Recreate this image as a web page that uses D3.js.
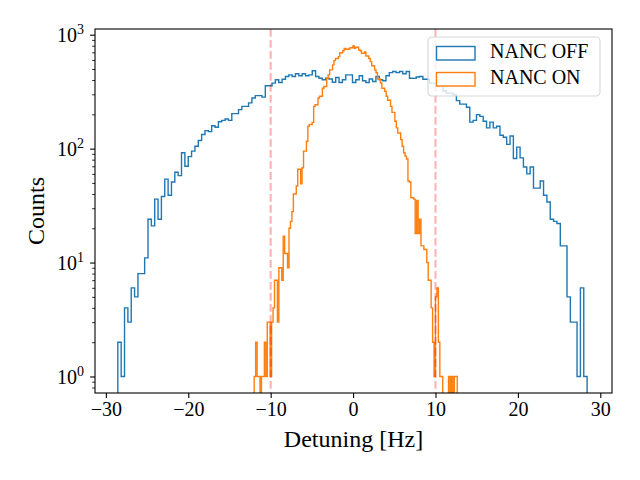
<!DOCTYPE html>
<html>
<head>
<meta charset="utf-8">
<script src="https://cdn.jsdelivr.net/npm/d3@7"></script>
<style>
  body { margin: 0; background: #fff; }
  svg { display: block; }
  .axis path, .axis line { stroke: #000; }
  text { font-family: "Liberation Serif", "DejaVu Serif", serif; fill: #000; }
</style>
</head>
<body>
<svg id="chart" width="640" height="480"></svg>
<script>
// histogram counts, 140 bins each
const offCounts = [2,1,4,3,6,5,8,8,11,24,21,36,24,38,54,39,51,62,58,92,70,85,95,105,
  118,133,144,141,159,154,172,177,182,177,203,203,220,235,235,252,278,292,292,283,356,356,
  376,402,381,407,430,444,430,454,436,
  454,436,444,482,430,415,402,415,408,383,421,381,402,444,444,381,402,436,394,381,
  408,388,430,402,394,436,465,475,465,475,454,475,415,
  414,425,430,407,407,
  376,376,352,352,322,307,307,297,264,246,246,231,171,177,199,192,174,152,171,152,
  157,131,126,109,129,82,103,83,69,60,69,45,45,52,39,34,24,23,22,14,14,5,3,3,1,6,1];
const onCounts = [1,2,1,1,0,1,1,2,1,3, 3,1,3,4,7,7,3,9,9,7,
  17,12,12,9,20,23,28,40,40,47, 66,66,49,68,95,95,116,157,163,163,
  170,235,243,243,278,288,288,339,351,351, 415,444,491,491,543,592,619,619,642,695,
  695,724,758,745,745,749,769,769,796,758, 775,775,735,724,686,686,706,650,650,619,
  580,534,534,491,463,408,408,377,339,339, 318,288,266,266,235,208,208,174,152,137,
  137,120,105,92,86,81,52,51,37,37, 36,18,35,18,24,14,14,13,13,10,
  7,7,4,2,1,5,6,2,1,1, 0,0,0,0,1,0,1,0,1,1];
const offRange = [-28.55, 28.4];
const onRange = [-12.0, 12.64];
const seriesNames = ["NANC OFF", "NANC ON"];
const seriesColors = ["#1f77b4", "#ff7f0e"];
const xTicks = [-30, -20, -10, 0, 10, 20, 30];
const yTickExps = [0, 1, 2, 3];
const markerLines = [-10, 10];

const svg = d3.select("#chart"),
      margin = {top: 29, right: 28, bottom: 87, left: 95},
      width = 640 - margin.left - margin.right,
      height = 480 - margin.top - margin.bottom,
      g = svg.append("g").attr("transform", "translate(" + margin.left + "," + margin.top + ")");

const x = d3.scaleLinear().domain([-31.32, 31.42]).range([0, width]);
const y = d3.scaleLog().domain([Math.pow(10, -0.145), Math.pow(10, 3.05)]).range([height, 0]);

svg.append("defs").append("clipPath").attr("id", "plotclip")
  .append("rect").attr("width", width).attr("height", height);

// step outline like matplotlib histtype='step'; zero bins fall off the bottom
function stepPoints(counts, range) {
  const w = (range[1] - range[0]) / counts.length;
  const yv = v => v > 0 ? y(v) : height + 30;
  let pts = [[x(range[0]), height + 30]];
  counts.forEach((c, i) => {
    pts.push([x(range[0] + i * w), yv(c)]);
    pts.push([x(range[0] + (i + 1) * w), yv(c)]);
  });
  pts.push([x(range[1]), height + 30]);
  return pts;
}

const plot = g.append("g").attr("clip-path", "url(#plotclip)");
[offCounts, onCounts].forEach((counts, i) => {
  plot.append("path")
    .attr("d", d3.line()(stepPoints(counts, i === 0 ? offRange : onRange)))
    .attr("fill", "none")
    .attr("stroke", seriesColors[i])
    .attr("stroke-width", 1.4)
    .attr("stroke-linejoin", "miter");
});

plot.selectAll("line.marker")
  .data(markerLines)
  .enter().append("line")
  .attr("class", "marker")
  .attr("x1", d => x(d)).attr("x2", d => x(d))
  .attr("y1", 0).attr("y2", height)
  .attr("stroke", "#ff0000")
  .attr("stroke-opacity", 0.3)
  .attr("stroke-width", 2.1)
  .attr("stroke-dasharray", "7.7,3.3");

// axes
const xAxis = g.append("g")
  .attr("class", "axis")
  .attr("transform", "translate(0," + height + ")")
  .call(d3.axisBottom(x).tickValues(xTicks).tickSize(4.9).tickPadding(4)
    .tickFormat(d => (d < 0 ? "\u2212" : "") + Math.abs(d)));
xAxis.select(".domain").remove();
xAxis.selectAll("line").attr("stroke-width", 1.1);
xAxis.selectAll("text").attr("font-size", 20).attr("font-family", "Liberation Serif");

const minor = [];
for (let e = -1; e <= 3; e++) {
  for (let m = 2; m <= 9; m++) {
    const v = m * Math.pow(10, e);
    if (v > y.domain()[0] && v < y.domain()[1]) minor.push(v);
  }
}
const yMinor = g.append("g").attr("class", "axis")
  .call(d3.axisLeft(y).tickValues(minor).tickSize(2.8).tickFormat(""));
yMinor.select(".domain").remove();
yMinor.selectAll("line").attr("stroke-width", 0.85);

const yAxis = g.append("g").attr("class", "axis")
  .call(d3.axisLeft(y).tickValues(yTickExps.map(e => Math.pow(10, e))).tickSize(4.9).tickFormat(""));
yAxis.select(".domain").remove();
yAxis.selectAll("line").attr("stroke-width", 1.1);
yAxis.selectAll(".tick").each(function(d, i) {
  const t = d3.select(this).append("text")
    .attr("x", -11).attr("y", 6.7)
    .attr("text-anchor", "end")
    .attr("font-size", 20);
  t.append("tspan").text("10");
  t.append("tspan").attr("font-size", 14).attr("dy", -8).text(String(yTickExps[i]));
});

// frame
g.append("rect")
  .attr("width", width).attr("height", height)
  .attr("fill", "none").attr("stroke", "#000").attr("stroke-width", 1.1);

// labels
svg.append("text")
  .attr("x", margin.left + width / 2).attr("y", 447)
  .attr("text-anchor", "middle").attr("font-size", 24)
  .text("Detuning [Hz]");
svg.append("text")
  .attr("transform", "translate(44," + (margin.top + height / 2) + ") rotate(-90)")
  .attr("text-anchor", "middle").attr("font-size", 24)
  .text("Counts");

// legend
const legend = svg.append("g").attr("transform", "translate(428,37)");
legend.append("rect")
  .attr("width", 172).attr("height", 59).attr("rx", 4)
  .attr("fill", "#fff").attr("fill-opacity", 0.8)
  .attr("stroke", "#cccccc").attr("stroke-opacity", 0.8).attr("stroke-width", 1.1);
const item = legend.selectAll("g.item")
  .data(seriesNames)
  .enter().append("g")
  .attr("class", "item")
  .attr("transform", (d, i) => "translate(0," + (i * 26) + ")");
item.append("rect")
  .attr("x", 8.5).attr("y", 9.5).attr("width", 38.5).attr("height", 13.5)
  .attr("fill", "none")
  .attr("stroke", (d, i) => seriesColors[i])
  .attr("stroke-width", 1.4);
item.append("text")
  .attr("x", 62).attr("y", 21)
  .attr("font-size", 20)
  .text(d => d);
</script>
</body>
</html>
